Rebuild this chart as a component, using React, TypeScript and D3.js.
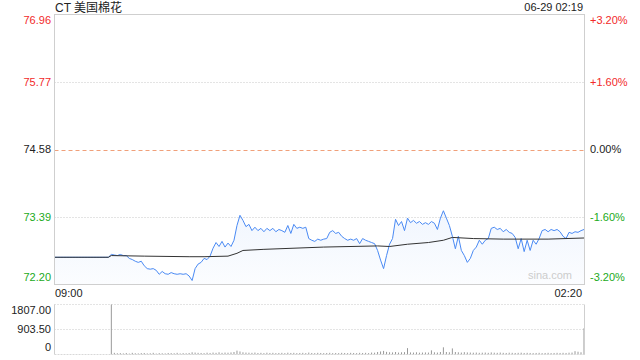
import React from "react";
import * as d3 from "d3";

const title = "CT 美国棉花";
const stamp = "06-29 02:19";
const prevClose = 74.58;
const priceTicks = [76.96, 75.77, 74.58, 73.39, 72.2];
const pctTicks = ["+3.20%", "+1.60%", "0.00%", "-1.60%", "-3.20%"];
const volTicks = [1807, 903.5, 0];
const volTickLabels = ["1807.00", "903.50", "0"];
const timeLabels = ["09:00", "02:20"];

const prices = [
  72.68, 72.68, 72.68, 72.68, 72.68, 72.68, 72.68, 72.68, 72.68, 72.68,
  72.68, 72.68, 72.68, 72.68, 72.68, 72.68, 72.68, 72.68, 72.68,
  72.73, 72.72, 72.71, 72.73, 72.71, 72.71, 72.66, 72.64, 72.61, 72.59,
  72.61, 72.53, 72.48, 72.47, 72.48, 72.45, 72.38, 72.43, 72.39, 72.38,
  72.41, 72.39, 72.38, 72.39, 72.38, 72.39, 72.35, 72.27, 72.48, 72.56,
  72.59, 72.66, 72.64, 72.70, 72.84, 72.94, 72.87, 72.96, 72.86, 72.93,
  72.87, 72.98, 73.24, 73.42, 73.33, 73.22, 73.26, 73.15, 73.21, 73.15,
  73.19, 73.13, 73.19, 73.15, 73.19, 73.13, 73.17, 73.15, 73.12, 73.24,
  73.10, 73.26, 73.19, 73.21, 73.19, 73.21, 73.01, 72.98, 72.96, 73.00,
  72.98, 73.00, 73.01, 73.12, 73.15, 73.10, 73.12, 73.05, 73.01, 72.98,
  73.00, 72.98, 73.01, 72.92, 73.01, 72.98, 72.96, 72.94, 72.92, 72.80,
  72.63, 72.48, 72.71, 72.91, 73.01, 73.35, 73.24, 73.31, 73.15, 73.37,
  73.29, 73.33, 73.28, 73.31, 73.26, 73.29, 73.26, 73.31, 73.28, 73.17,
  73.37, 73.50, 73.37, 73.24, 73.05, 72.83, 73.05, 72.80, 72.71, 72.59,
  72.66, 72.80, 72.86, 72.98, 72.91, 72.98, 73.01, 73.19, 73.21, 73.17,
  73.19, 73.13, 73.17, 73.12, 73.10, 73.03, 72.83, 73.01, 72.78, 72.98,
  72.80, 72.98, 72.91, 73.01, 73.15, 73.17, 73.13, 73.17, 73.15, 73.17,
  73.13, 73.05, 73.01, 73.12, 73.10, 73.13, 73.12, 73.15, 73.17,
];

const avgIdx = [0, 18, 19, 30, 45, 50, 58, 61, 63, 70, 90, 108, 112, 118, 125, 130, 133, 140, 150, 165, 177];
const avgVal = [72.68, 72.68, 72.71, 72.70, 72.69, 72.69, 72.70, 72.75, 72.80, 72.82, 72.86, 72.88, 72.87, 72.91, 72.94, 72.98, 73.03, 73.01, 73.0, 73.0, 73.02];

const volumes = [
  0, 0, 0, 0, 0, 0, 0, 0, 0, 0, 0, 0, 0, 0, 0, 0, 0, 0, 0,
  1807,
  60, 45, 50, 40, 55, 35, 60, 45, 40, 50,
  55, 40, 45, 60, 35, 50, 45, 40, 55, 50,
  45, 60, 40, 50, 45, 55, 80, 70, 60, 55,
  50, 65, 55, 70, 60, 80, 60, 70, 65, 75,
  90, 140, 110, 80, 70, 65, 60, 70, 55, 60,
  50, 65, 55, 60, 50, 55, 60, 50, 65, 55,
  60, 50, 55, 60, 50, 70, 55, 50, 60, 55,
  50, 55, 60, 50, 55, 50, 60, 55, 50, 60,
  55, 50, 60, 55, 60, 50, 70, 65, 90, 110,
  130, 95, 80, 75, 90, 70, 80, 85, 230, 75,
  70, 80, 65, 70, 75, 70, 150, 80, 70, 90,
  260, 90, 80, 220, 90, 80, 70, 85, 75, 70,
  65, 70, 60, 65, 70, 60, 75, 65, 60, 70,
  60, 55, 65, 60, 55, 60, 65, 55, 60, 55,
  50, 55, 60, 50, 55, 60, 50, 55, 60, 55,
  60, 55, 65, 70, 120, 100, 80, 950,
];

const FONT = "'Liberation Sans', Arial, 'Noto Sans CJK SC', sans-serif";
const RED = "#f22a2a";
const GREEN = "#22aa22";

export default function App() {
  const L = 54.5, R = 584.5, T = 14.5, B = 284.5;
  const VT = 304.5, VB = 354.5;
  const x = d3.scaleLinear().domain([0, prices.length - 1]).range([L, R - 0.5]);
  const y = d3.scaleLinear().domain([72.2, 76.96]).range([B, T]);
  const vy = d3.scaleLinear().domain([0, 1807]).range([VB, VT]);

  const line = d3.line<number>().x((_, i) => x(i)).y((d) => y(d));
  const area = d3.area<number>().x((_, i) => x(i)).y0(B).y1((d) => y(d));
  const avgLine = d3.line<number>().x((_, i) => x(avgIdx[i])).y((d) => y(d));

  const colorFor = (v: number) => (Math.abs(v - prevClose) < 1e-6 ? "#222" : v > prevClose ? RED : GREEN);
  const labelY = (v: number) => Math.min(Math.max(y(v), T + 6), B - 7);
  const vLabelY = (v: number) => Math.min(Math.max(vy(v), VT + 6), VB - 7);

  return (
    <svg width={640} height={360} style={{ position: "absolute", left: 0, top: 0, fontFamily: FONT }}>
      <defs>
        <linearGradient id="fillg" x1="0" y1="0" x2="0" y2="1">
          <stop offset="0%" stopColor="#4a8af4" stopOpacity={0.08} />
          <stop offset="100%" stopColor="#4a8af4" stopOpacity={0.02} />
        </linearGradient>
      </defs>
      <rect width={640} height={360} fill="#fff" />
      <text x={55} y={12} fontSize={12} fill="#222">{title}</text>
      <text x={583} y={11} fontSize={11} fill="#222" textAnchor="end">{stamp}</text>

      {priceTicks.map((v, i) => {
        const yy = y(v);
        const isZero = Math.abs(v - prevClose) < 1e-6;
        const inner = i > 0 && i < priceTicks.length - 1;
        return (
          <g key={v}>
            {inner && (
              <line x1={L} x2={R} y1={Math.round(yy) + 0.5} y2={Math.round(yy) + 0.5}
                stroke={isZero ? "#f0a07a" : "#c8c8c8"} strokeDasharray={isZero ? "4,3" : "1,2"} />
            )}
            <text x={51} y={labelY(v)} dy="0.35em" fontSize={11} textAnchor="end" fill={colorFor(v)}>{v.toFixed(2)}</text>
            <text x={590} y={labelY(v)} dy="0.35em" fontSize={11} fill={colorFor(v)}>{pctTicks[i]}</text>
          </g>
        );
      })}

      <path d={area(prices) ?? ""} fill="url(#fillg)" />
      <path d={line(prices) ?? ""} fill="none" stroke="#4a8af4" strokeWidth={1} />
      <path d={avgLine(avgVal) ?? ""} fill="none" stroke="#333" strokeWidth={1} />
      <rect x={L} y={T} width={R - L} height={B - T} fill="none" stroke="#cfcfcf" />

      <text x={528} y={279} fontSize={11} fill="#cccccc">sina.com</text>
      <text x={55} y={297} fontSize={11} fill="#222">{timeLabels[0]}</text>
      <text x={582} y={297} fontSize={11} fill="#222" textAnchor="end">{timeLabels[1]}</text>

      {volTicks.map((v, i) => (
        <g key={v}>
          {v > 0 && (
            <line x1={L} x2={R} y1={vy(v)} y2={vy(v)} stroke="#c8c8c8" strokeDasharray="1,2" />
          )}
          <text x={51} y={vLabelY(v)} dy="0.35em" fontSize={11} textAnchor="end" fill="#222">{volTickLabels[i]}</text>
        </g>
      ))}
      {volumes.map((v, i) => (
        <line key={i} x1={x(i)} x2={x(i)} y1={VB} y2={vy(v)} stroke="#999" strokeWidth={1} />
      ))}
      <line x1={L} x2={L} y1={VT} y2={VB} stroke="#cfcfcf" />
      <line x1={R} x2={R} y1={VT} y2={VB} stroke="#cfcfcf" />
      <line x1={L} x2={R} y1={VB} y2={VB} stroke="#d8d8d8" strokeDasharray="2,1" />
    </svg>
  );
}
